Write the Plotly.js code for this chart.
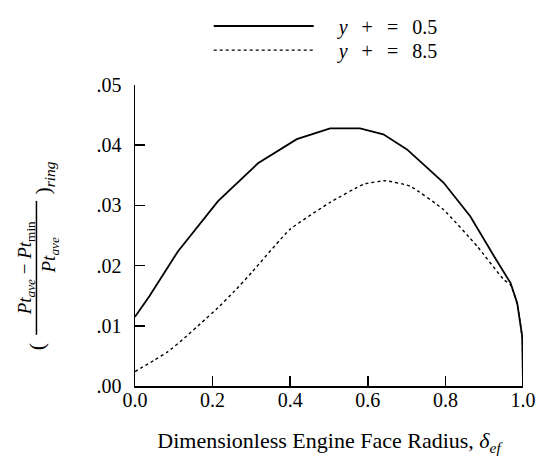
<!DOCTYPE html>
<html>
<head>
<meta charset="utf-8">
<script src="https://cdn.plot.ly/plotly-3.0.1.min.js"></script>
<style>html,body{margin:0;padding:0;background:#fff;}#chart{width:539px;height:456px;}</style>
</head>
<body>
<div id="chart"></div>
<script>
// y+ = 0.5 (solid)
const radius05 = [0, 0.037, 0.111, 0.214, 0.317, 0.417, 0.503, 0.580, 0.640, 0.701, 0.795, 0.864, 0.925, 0.968, 0.985, 0.998, 1.0];
const dist05   = [0.0115, 0.0149, 0.0224, 0.0307, 0.0370, 0.0410, 0.0428, 0.0428, 0.0418, 0.0393, 0.0338, 0.0282, 0.0216, 0.0171, 0.0138, 0.0082, 0.0];
// y+ = 8.5 (dotted)
const radius85 = [0, 0.050, 0.085, 0.128, 0.171, 0.214, 0.257, 0.300, 0.399, 0.503, 0.589, 0.645, 0.709, 0.795, 0.882, 0.950, 0.968, 0.985, 0.998, 1.0];
const dist85   = [0.0024, 0.0043, 0.0057, 0.0080, 0.0105, 0.0130, 0.0158, 0.0188, 0.0260, 0.0305, 0.0335, 0.0341, 0.0332, 0.0293, 0.0232, 0.0177, 0.0168, 0.0136, 0.0080, 0.0];

const seriesNames = ['<i>y</i> + = 0.5', '<i>y</i> + = 8.5'];
const yTickVals = [0, 0.01, 0.02, 0.03, 0.04, 0.05];
const yTickText = ['.00', '.01', '.02', '.03', '.04', '.05'];
const xTickVals = [0, 0.2, 0.4, 0.6, 0.8, 1.0];
const xTickText = ['0.0', '0.2', '0.4', '0.6', '0.8', '1.0'];

const serif = '"Liberation Serif", "Times New Roman", serif';
const spaced = s => '\u2002\u2002' + s.replace(/ /g, '\u2002\u2009');

const traces = [
  {x: radius05, y: dist05, name: spaced(seriesNames[0]), legend: 'legend', mode: 'lines', line: {color: '#000', width: 1.8, shape: 'linear'}},
  {x: radius85, y: dist85, name: spaced(seriesNames[1]), legend: 'legend2', mode: 'lines', line: {color: '#000', width: 1.4, dash: 'dot', shape: 'spline', smoothing: 0.4}}
];

const legendBase = {x: 0.19, xanchor: 'left', yref: 'container', yanchor: 'middle', bgcolor: 'rgba(0,0,0,0)', font: {family: serif, size: 20, color: '#000'}, itemwidth: 100};

const layout = {
  width: 539, height: 456,
  margin: {l: 135, r: 16, t: 85, b: 70, autoexpand: false},
  paper_bgcolor: '#fff', plot_bgcolor: '#fff',
  font: {family: serif, color: '#000', size: 17},
  showlegend: true,
  legend: Object.assign({}, legendBase, {y: 0.943}),
  legend2: Object.assign({}, legendBase, {y: 0.890}),
  xaxis: {
    range: [0, 1.0], tickvals: xTickVals, ticktext: xTickText,
    showline: true, linecolor: '#000', linewidth: 1.5, mirror: false,
    ticks: 'inside', ticklen: 10, tickwidth: 1.5, tickcolor: '#000',
    showgrid: false, zeroline: false, ticklabelstandoff: -5,
    tickfont: {family: serif, size: 20, color: '#000'},
    title: {text: 'Dimensionless Engine Face Radius, <i>δ</i><sub><i>ef</i></sub>', font: {family: serif, size: 22, color: '#000'}, standoff: 24}
  },
  yaxis: {
    range: [0, 0.05], tickvals: yTickVals, ticktext: yTickText,
    showline: true, linecolor: '#000', linewidth: 1.5, mirror: false,
    ticks: 'inside', ticklen: 10, tickwidth: 1.5, tickcolor: '#000',
    showgrid: false, zeroline: false, ticklabelstandoff: 8,
    tickfont: {family: serif, size: 20, color: '#000'}
  },
  annotations: [
    {xref: 'paper', yref: 'paper', x: -0.28, y: 0.392, text: '<i>Pt</i><sub><i>ave</i></sub> − <i>Pt</i><sub>min</sub>', showarrow: false, textangle: -90, font: {family: serif, size: 19, color: '#000'}, xanchor: 'center', yanchor: 'middle'},
    {xref: 'paper', yref: 'paper', x: -0.218, y: 0.435, text: '<i>Pt</i><sub><i>ave</i></sub>', showarrow: false, textangle: -90, font: {family: serif, size: 19, color: '#000'}, xanchor: 'center', yanchor: 'middle'},
    {xref: 'paper', yref: 'paper', x: -0.254, y: 0.13, text: '(', showarrow: false, textangle: -90, font: {family: serif, size: 22, color: '#000'}, xanchor: 'center', yanchor: 'middle'},
    {xref: 'paper', yref: 'paper', x: -0.234, y: 0.69, text: ')<sub><i>ring</i></sub>', showarrow: false, textangle: -90, font: {family: serif, size: 22, color: '#000'}, xanchor: 'center', yanchor: 'middle'}
  ],
  shapes: [
    {type: 'line', xref: 'paper', yref: 'paper', x0: -0.254, x1: -0.254, y0: 0.17, y1: 0.615, line: {color: '#000', width: 1.5}}
  ]
};

Plotly.newPlot('chart', traces, layout, {displayModeBar: false, staticPlot: true});
</script>
</body>
</html>
